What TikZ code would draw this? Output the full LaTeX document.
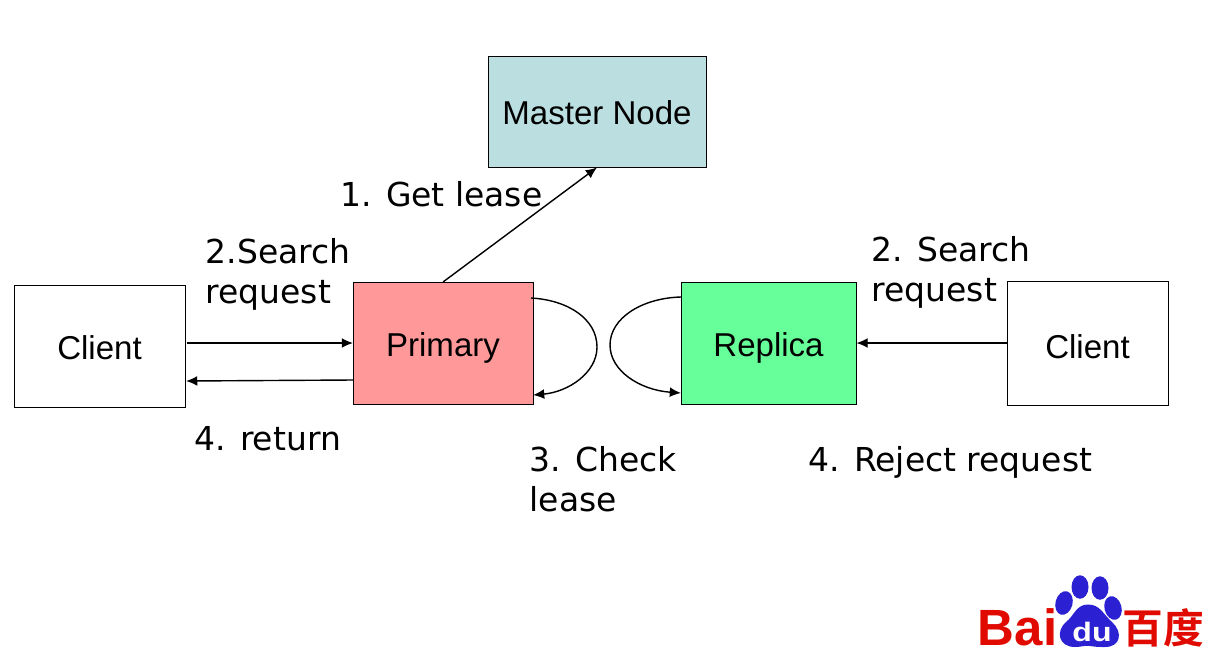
\documentclass[tikz,border=0pt]{standalone}
\usepackage{fontspec}
\usetikzlibrary{shapes.geometric,arrows.meta}
\setmainfont{Liberation Sans}
\newfontfamily\labelfont{DejaVu Sans}
\newfontfamily\logofont{Noto Sans CJK SC}[BoldFont={Noto Sans CJK SC Bold}]
\definecolor{mastercol}{HTML}{BBDEE1}
\definecolor{primarycol}{HTML}{FF9999}
\definecolor{replicacol}{HTML}{66FF99}
\definecolor{pawblue}{HTML}{2B20D2}
\definecolor{logored}{HTML}{E10A00}
\begin{document}
\begin{tikzpicture}[>={Latex[length=3.2pt,width=2.8pt]},
    box/.style={draw,line width=.25pt,inner sep=0pt,text height=7.4pt,text depth=0pt,font=\fontsize{9.4}{11}\selectfont},
    txt/.style={anchor=west,inner sep=0pt,align=left,font=\labelfont\fontsize{9.38}{11.4}\selectfont},
    arr/.style={->,line width=.4pt},
    toe/.style={fill=pawblue,ellipse,inner sep=0pt}]

  \useasboundingbox (0,0) rectangle (12.19,6.66);

  % the boxes
  \node[box,fill=mastercol,minimum width=2.18cm,minimum height=1.11cm] (master) at (5.97,5.545) {Master Node};
  \node[box,fill=primarycol,minimum width=1.80cm,minimum height=1.22cm] (primary) at (4.43,3.23) {Primary};
  \node[box,fill=replicacol,minimum width=1.75cm,minimum height=1.22cm] (replica) at (7.685,3.23) {Replica};
  \node[box,minimum width=1.71cm,minimum height=1.22cm] (clientl) at (0.995,3.20) {Client};
  \node[box,text height=9pt,minimum width=1.61cm,minimum height=1.24cm] (clientr) at (10.875,3.23) {Client};

  % free ends
  \coordinate (pout) at (4.43,3.84);
  \coordinate (lout) at (1.87,3.23);
  \coordinate (lin) at (3.53,3.23);
  \coordinate (pback) at (3.53,2.86);
  \coordinate (lback) at (1.86,2.85);
  \coordinate (ptop) at (5.31,3.68);
  \coordinate (pbot) at (5.33,2.71);
  \coordinate (rtop) at (6.81,3.69);
  \coordinate (rbot) at (6.81,2.73);

  % the arrows
  \draw[arr] (pout) to (master.south);
  \draw[arr] (lout) to (lin);
  \draw[arr] (pback) to (lback);
  \draw[arr] (clientr.west |- lin) to (replica.east |- lin);
  \draw[arr] (ptop) .. controls (5.68,3.66) and (5.97,3.47) .. (5.97,3.19)
     .. controls (5.97,2.93) and (5.68,2.74) .. (pbot);
  \draw[arr] (rtop) .. controls (6.42,3.68) and (6.10,3.48) .. (6.10,3.21)
     .. controls (6.10,2.95) and (6.40,2.76) .. (rbot);

  % the texts
  \node[txt] (getlease) at (3.40,4.72) {1. Get lease};
  \node[txt] (searchl) at (2.05,3.92) {2.Search\\request};
  \node[txt] (searchr) at (8.71,3.94) {2. Search\\request};
  \node[txt] (ret) at (1.94,2.27) {4. return};
  \node[txt] (check) at (5.29,1.87) {3. Check\\lease};
  \node[txt] (reject) at (8.08,2.04) {4. Reject request};

  % the logo
  \node[toe,minimum width=.17cm,minimum height=.235cm] (toea) at (10.80,0.79) {};
  \node[toe,minimum width=.17cm,minimum height=.235cm] (toeb) at (11.00,0.78) {};
  \node[toe,rotate=-15,minimum width=.17cm,minimum height=.24cm] (toec) at (10.64,0.63) {};
  \node[toe,rotate=15,minimum width=.17cm,minimum height=.24cm] (toed) at (11.13,0.58) {};
  \fill[pawblue] (10.88,0.615) .. controls (10.76,0.615) and (10.74,0.50) .. (10.66,0.44)
     .. controls (10.55,0.34) and (10.59,0.19) .. (10.75,0.19)
     .. controls (10.82,0.19) and (10.85,0.21) .. (10.90,0.20)
     .. controls (10.96,0.19) and (11.00,0.19) .. (11.05,0.19)
     .. controls (11.21,0.19) and (11.23,0.34) .. (11.12,0.44)
     .. controls (11.03,0.52) and (11.00,0.615) .. (10.88,0.615) -- cycle;
  \node[inner sep=0pt,xscale=1.2,text=white,font=\bfseries\fontsize{7.6}{9}\selectfont] (du) at (10.92,0.34) {du};
  \node[inner sep=0pt,text=logored,font=\bfseries\fontsize{14.5}{15}\selectfont] (bai) at (10.175,0.39) {Bai};
  \node[inner sep=0pt,text=logored,font=\logofont\bfseries\fontsize{11.6}{12}\selectfont] (cjk) at (11.635,0.385) {百度};
\end{tikzpicture}
\end{document}
